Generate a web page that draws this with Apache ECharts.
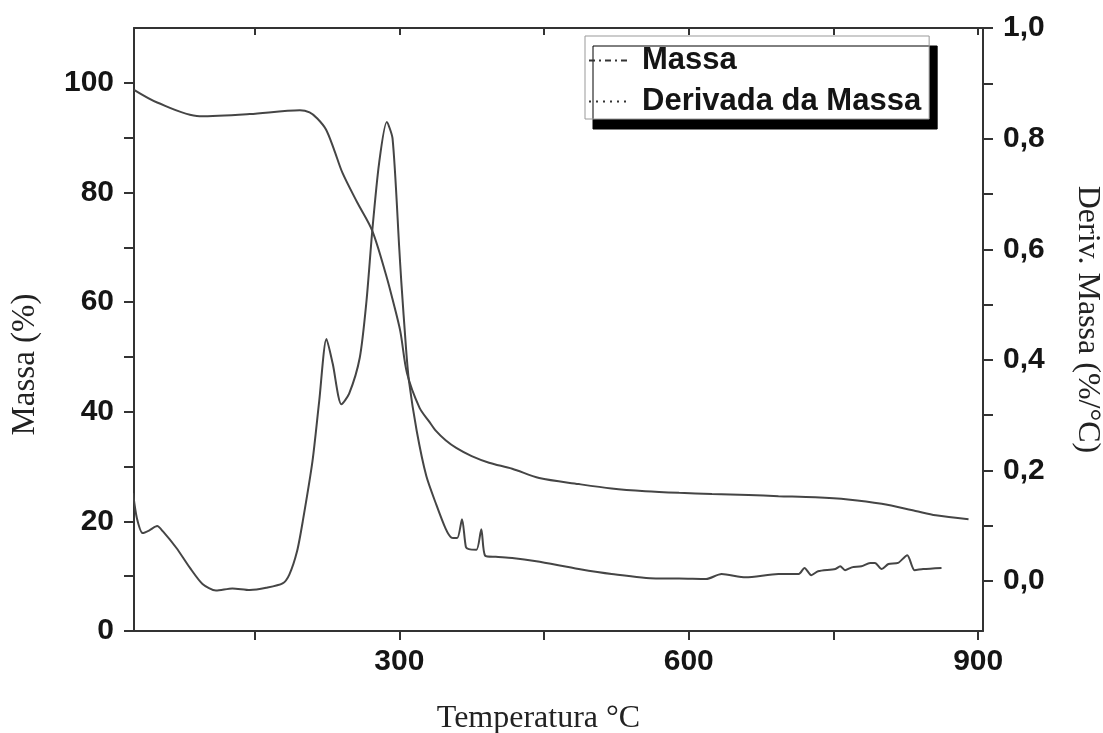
<!DOCTYPE html>
<html>
<head>
<meta charset="utf-8">
<script src="https://cdn.jsdelivr.net/npm/echarts@6/dist/echarts.min.js"></script>
<style>
html,body{margin:0;padding:0;background:#fff;overflow:hidden;}
#chart{width:1103px;height:733px;}
</style>
</head>
<body>
<div id="chart"></div>
<script>
// ---- data ----
const massaTemp = [25, 49, 93, 145, 197, 207, 215, 224, 232, 241, 256, 272, 287, 293, 301, 308, 321, 331, 338, 348, 359, 375, 393, 417, 445, 486, 520, 555, 590, 624, 662, 693, 731, 765, 800, 835, 856, 890];
const massaVal  = [98.7, 96.4, 93.9, 94.3, 95.0, 94.6, 93.5, 91.5, 88.0, 83.6, 78.3, 73.0, 64.5, 60.5, 54.7, 47.0, 40.7, 38.2, 36.5, 34.8, 33.4, 31.9, 30.7, 29.6, 27.9, 26.8, 26.0, 25.5, 25.2, 25.0, 24.8, 24.6, 24.4, 24.0, 23.2, 21.9, 21.1, 20.4];

const derivTemp = [24, 28, 34, 41, 49, 55, 69, 83, 96, 110, 127, 145, 162, 179, 186, 194, 200, 210, 217, 224.5, 231, 240, 248, 259, 266, 272, 279, 287, 293, 300, 302, 307, 310, 318, 328, 338, 348, 354, 360, 365, 369, 372, 380, 385, 389, 400, 417, 442, 486, 520, 566, 590, 618, 634, 659, 693, 714, 720, 727, 734, 752, 757, 762, 769, 779, 788, 793, 800, 807, 817, 826.5, 834, 843, 862];
const derivVal  = [0.159, 0.114, 0.087, 0.092, 0.0996, 0.09, 0.06, 0.024, -0.005, -0.017, -0.013, -0.016, -0.012, -0.004, 0.012, 0.054, 0.109, 0.217, 0.326, 0.438, 0.393, 0.32, 0.339, 0.404, 0.507, 0.634, 0.755, 0.83, 0.80, 0.60, 0.543, 0.42, 0.362, 0.272, 0.19, 0.14, 0.095, 0.079, 0.078, 0.112, 0.062, 0.058, 0.057, 0.094, 0.046, 0.044, 0.042, 0.036, 0.022, 0.013, 0.005, 0.005, 0.004, 0.013, 0.007, 0.013, 0.013, 0.024, 0.011, 0.018, 0.022, 0.027, 0.02, 0.025, 0.027, 0.033, 0.033, 0.022, 0.031, 0.033, 0.047, 0.02, 0.022, 0.024];

const xLabelValues = [300, 600, 900];
const xTickValues = [150, 300, 450, 600, 750, 900];
const leftLabelValues = [0, 20, 40, 60, 80, 100];
const leftTickValues = [0, 10, 20, 30, 40, 50, 60, 70, 80, 90, 100];
const rightLabelValues = [0, 0.2, 0.4, 0.6, 0.8, 1.0];
const rightTickValues = [0, 0.1, 0.2, 0.3, 0.4, 0.5, 0.6, 0.7, 0.8, 0.9, 1.0];

const seriesNames = ['Massa', 'Derivada da Massa'];
const xName = 'Temperatura °C';
const leftName = 'Massa (%)';
const rightName = 'Deriv. Massa (%/°C)';

// ---- chart ----
const chart = echarts.init(document.getElementById('chart'), null, {renderer: 'canvas'});
const axisColor = '#333';
const lineColor = '#454545';
const labelFont = {fontFamily: 'Liberation Sans, Arial, sans-serif', fontWeight: 'bold', fontSize: 30, color: '#151515'};
const nameFont = {fontFamily: 'Liberation Serif, Times New Roman, serif', fontSize: 32, color: '#222'};

const option = {
  animation: false,
  backgroundColor: '#fff',
  grid: {left: 134, right: 120, top: 28, bottom: 102, containLabel: false, outerBoundsMode: 'none'},
  legend: {
    orient: 'vertical',
    left: 585, top: 36,
    padding: [9, 8, 2, 3],
    itemGap: 10,
    itemWidth: 42, itemHeight: 14,
    backgroundColor: '#fff',
    borderColor: '#999', borderWidth: 1,
    shadowColor: '#000', shadowBlur: 0, shadowOffsetX: 8, shadowOffsetY: 10,
    textStyle: Object.assign({}, labelFont, {fontSize: 31, lineHeight: 30, padding: [0, 0, 0, 6]}),
    data: [
      {name: seriesNames[0], itemStyle: {opacity: 0}, lineStyle: {type: [6, 4, 2, 4], width: 2, color: '#333'}},
      {name: seriesNames[1], itemStyle: {opacity: 0}, lineStyle: {type: [2, 5], width: 2, color: '#333'}}
    ]
  },
  xAxis: [
    {
      type: 'value', position: 'bottom', min: 25, max: 905,
      name: xName, nameLocation: 'middle', nameGap: 72,
      nameTextStyle: Object.assign({}, nameFont, {padding: [0, 40, 0, 0]}),
      axisLine: {show: true, onZero: false, lineStyle: {color: axisColor, width: 2}},
      axisTick: {show: true, inside: false, length: 9, customValues: xTickValues, lineStyle: {color: axisColor, width: 2}},
      axisLabel: Object.assign({}, labelFont, {margin: 16, customValues: xLabelValues}),
      splitLine: {show: false}
    },
    {
      type: 'value', position: 'top', min: 25, max: 905,
      axisLine: {show: true, onZero: false, lineStyle: {color: axisColor, width: 2}},
      axisTick: {show: true, inside: true, length: 7, customValues: xTickValues, lineStyle: {color: axisColor, width: 2}},
      axisLabel: {show: false},
      splitLine: {show: false}
    }
  ],
  yAxis: [
    {
      type: 'value', position: 'left', min: 0, max: 110,
      name: leftName, nameLocation: 'middle', nameGap: 92, nameRotate: 90,
      nameTextStyle: Object.assign({}, nameFont, {fontSize: 33, padding: [0, 70, 0, 0]}),
      axisLine: {show: true, onZero: false, lineStyle: {color: axisColor, width: 2}},
      axisTick: {show: true, inside: false, length: 10, customValues: leftTickValues, lineStyle: {color: axisColor, width: 2}},
      axisLabel: Object.assign({}, labelFont, {margin: 20, customValues: leftLabelValues}),
      splitLine: {show: false}
    },
    {
      type: 'value', position: 'right', min: -0.09, max: 1.0,
      name: rightName, nameLocation: 'middle', nameGap: 88, nameRotate: -90,
      nameTextStyle: Object.assign({}, nameFont, {padding: [0, 20, 0, 0]}),
      axisLine: {show: true, onZero: false, lineStyle: {color: axisColor, width: 2}},
      axisTick: {show: true, inside: false, length: 10, customValues: rightTickValues, lineStyle: {color: axisColor, width: 2}},
      axisLabel: Object.assign({}, labelFont, {margin: 20, customValues: rightLabelValues,
        formatter: v => v.toFixed(1).replace('.', ',')}),
      splitLine: {show: false}
    }
  ],
  series: [
    {
      name: seriesNames[0], type: 'line', xAxisIndex: 0, yAxisIndex: 0,
      data: massaTemp.map((t, i) => [t, massaVal[i]]),
      smooth: 0.3, showSymbol: false, symbol: 'none',
      lineStyle: {color: lineColor, width: 2}, itemStyle: {color: lineColor}
    },
    {
      name: seriesNames[1], type: 'line', xAxisIndex: 0, yAxisIndex: 1,
      data: derivTemp.map((t, i) => [t, derivVal[i]]),
      smooth: 0.25, showSymbol: false, symbol: 'none',
      lineStyle: {color: lineColor, width: 2}, itemStyle: {color: lineColor}
    }
  ]
};
chart.setOption(option);
</script>
</body>
</html>
